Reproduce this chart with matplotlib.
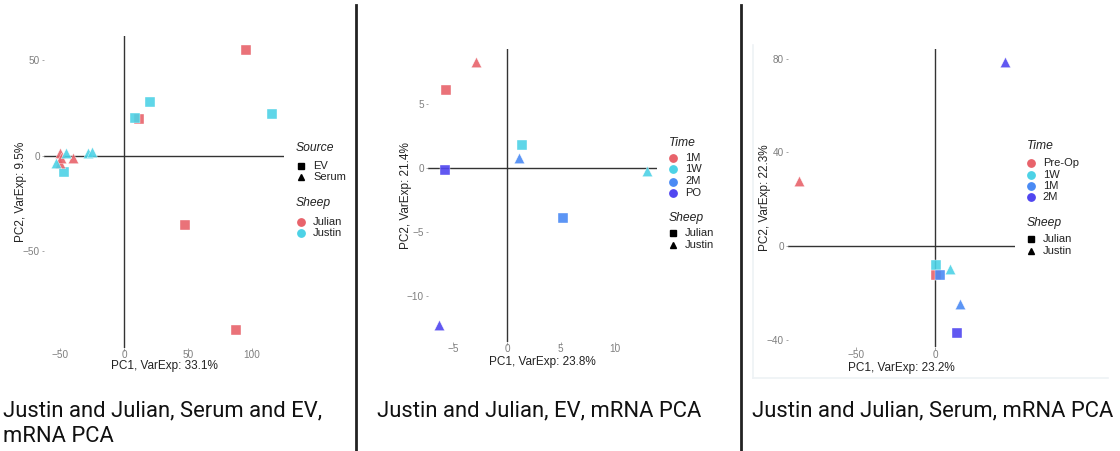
import matplotlib
matplotlib.use('Agg')
import matplotlib.pyplot as plt
from matplotlib.lines import Line2D

plt.rcParams['font.family'] = ['Liberation Sans', 'DejaVu Sans']

W, H = 1120, 451

# ---- data ----
# panel 1: serum and EV
p1_x = [95.6, 11.7, 48.0, 88.0, 20.3, 8.6, 116.0, -47.3,
        -50.4, -49.9, -40.0, -49.0, -53.0, -45.5, -27.8, -25.2]
p1_y = [55.4, 19.4, -36.4, -91.4, 28.3, 19.6, 21.9, -8.4,
        1.2, -4.0, -1.4, -1.0, -4.0, 1.2, 1.2, 1.8]
p1_source = ['EV'] * 8 + ['Serum'] * 8
p1_sheep = ['Julian'] * 4 + ['Justin'] * 4 + ['Julian'] * 4 + ['Justin'] * 4

# panel 2: EV
p2_x = [-2.9, -5.67, 1.4, 1.08, -5.76, 13.05, 5.17, -6.3]
p2_y = [8.3, 6.09, 1.83, 0.76, -0.16, -0.2, -3.9, -12.3]
p2_time = ['1M', '1M', '1W', '2M', 'PO', '1W', '2M', 'PO']
p2_sheep = ['Justin', 'Julian', 'Julian', 'Justin', 'Julian', 'Justin', 'Julian', 'Justin']

# panel 3: serum
p3_x = [-86.4, 44.1, 0.8, 0.4, 9.7, 3.0, 15.7, 13.8]
p3_y = [27.6, 78.4, -12.2, -8.0, -9.8, -12.2, -24.6, -37.2]
p3_time = ['Pre-Op', '2M', 'Pre-Op', '1W', '1W', '1M', '1M', '2M']
p3_sheep = ['Justin', 'Justin', 'Julian', 'Julian', 'Justin', 'Julian', 'Justin', 'Julian']

RED, CYAN, BLUE, PURPLE = '#E8636B', '#4DD2E6', '#4A8AF4', '#5046F0'
p1_colors = {'Julian': RED, 'Justin': CYAN}
p2_colors = {'1M': RED, '1W': CYAN, '2M': BLUE, 'PO': PURPLE}
p3_colors = {'Pre-Op': RED, '1W': CYAN, '1M': BLUE, '2M': PURPLE}
shape_src = {'EV': 's', 'Serum': '^'}
shape_sheep = {'Julian': 's', 'Justin': '^'}

fig = plt.figure(figsize=(W / 100, H / 100), dpi=100)


def fx(px):
    return px / W


def fy(py):
    return 1 - py / H


def px_axes(l, t, r, b):
    return fig.add_axes([l / W, 1 - b / H, (r - l) / W, (b - t) / H])


def style(ax, box, xlim, ylim, xticks, yticks, xlabel, ylabel, xlab_y, ylab_x):
    l, t, r, b = box
    ax.set_xlim(xlim)
    ax.set_ylim(ylim)
    ax.axhline(0, color='#333333', lw=1.0, zorder=1)
    ax.axvline(0, color='#333333', lw=1.0, zorder=1)
    for s in ax.spines.values():
        s.set_visible(False)
    ax.set_xticks(xticks)
    ax.set_yticks(yticks)
    ax.tick_params(length=1.8, width=0.6, color='#999999', labelcolor='#7f7f7f',
                   labelsize=7.2)
    ax.tick_params(axis='x', pad=0)
    ax.tick_params(axis='y', pad=1)
    ax.set_xlabel(xlabel, fontsize=8.5, color='#222222', va='center')
    ax.set_ylabel(ylabel, fontsize=8.5, color='#222222', va='center')
    ax.xaxis.set_label_coords(0.5, -(xlab_y - b) / (b - t))
    ax.yaxis.set_label_coords(-(l - ylab_x) / (r - l), 0.5)
    ax.patch.set_alpha(0)


def draw(ax, xs, ys, colors, markers):
    for x, y, c, m in zip(xs, ys, colors, markers):
        ax.scatter(x, y, s=44 if m == 's' else 56, marker=m, color=c,
                   edgecolors='white', linewidths=0.3, alpha=0.9, zorder=3)


def legend(title, labels, colors, markers, x, ty, mx, lx, ys):
    fig.text(fx(x), fy(ty), title, fontsize=8.7, style='italic', color='#222222',
             ha='left', va='center')
    for lab, c, m, y in zip(labels, colors, markers, ys):
        fig.add_artist(Line2D([fx(mx)], [fy(y)], ls='none', marker=m, color=c,
                              markersize=5.0 if m != 'o' else 5.3))
        fig.text(fx(lx), fy(y), lab, fontsize=8, color='#222222', ha='left', va='center')


# ---- panel 1 ----
box1 = (44, 36, 284, 348)
ax1 = px_axes(*box1)
draw(ax1, p1_x, p1_y, [p1_colors[s] for s in p1_sheep], [shape_src[s] for s in p1_source])
style(ax1, box1, (-62.6, 125.2), (-100.8, 62.8), [-50, 0, 50, 100], [-50, 0, 50],
      'PC1, VarExp: 33.1%', 'PC2, VarExp: 9.5%', 365.5, 21)
legend('Source', ['EV', 'Serum'], ['black', 'black'], ['s', '^'],
       296, 147.7, 301, 313, [165.7, 177])
legend('Sheep', ['Julian', 'Justin'], [RED, CYAN], ['o', 'o'],
       296, 203, 301, 313, [221.7, 232.9])

# ---- panel 2 ----
box2 = (428, 49, 657, 342)
ax2 = px_axes(*box2)
draw(ax2, p2_x, p2_y, [p2_colors[t] for t in p2_time], [shape_sheep[s] for s in p2_sheep])
style(ax2, box2, (-7.34, 13.94), (-13.64, 9.33), [-5, 0, 5, 10], [-10, -5, 0, 5],
      'PC1, VarExp: 23.8%', 'PC2, VarExp: 21.4%', 361.5, 406)
legend('Time', list(p2_colors), list(p2_colors.values()), ['o'] * 4,
       669, 143.3, 673.3, 685, [157.7, 169.3, 181.5, 193.3])
legend('Sheep', ['Julian', 'Justin'], ['black', 'black'], ['s', '^'],
       669, 218.3, 673.3, 685, [233.3, 245.3])

# ---- panel 3 ----
box3 = (788, 49, 1015, 347)
ax3 = px_axes(*box3)
draw(ax3, p3_x, p3_y, [p3_colors[t] for t in p3_time], [shape_sheep[s] for s in p3_sheep])
style(ax3, box3, (-93.4, 50.7), (-43.0, 84.1), [-50, 0], [-40, 0, 40, 80],
      'PC1, VarExp: 23.2%', 'PC2, VarExp: 22.3%', 367.5, 765)
legend('Time', list(p3_colors), list(p3_colors.values()), ['o'] * 4,
       1026.7, 146, 1031, 1042.7, [163.3, 174.5, 185.7, 196.7])
legend('Sheep', ['Julian', 'Justin'], ['black', 'black'], ['s', '^'],
       1026.7, 222.7, 1031, 1042.7, [239.3, 250.7])

# faint screenshot frame around panel 3
fig.add_artist(Line2D([fx(753), fx(753)], [fy(45), fy(378)], color='#eef2f5', lw=1.2))
fig.add_artist(Line2D([fx(753), fx(1108)], [fy(378), fy(378)], color='#eef2f5', lw=1.2))

# separators
for xs in (356, 741):
    fig.add_artist(Line2D([fx(xs), fx(xs)], [0, fy(5)], color='#222222', lw=2.0))

# captions
cap = dict(fontsize=15.8, family='Roboto', color='#111111', va='center', ha='left')
fig.text(fx(3), fy(411), 'Justin and Julian, Serum and EV,', **cap)
fig.text(fx(3), fy(436), 'mRNA PCA', **cap)
fig.text(fx(377), fy(411), 'Justin and Julian, EV, mRNA PCA', **cap)
fig.text(fx(752), fy(411), 'Justin and Julian, Serum, mRNA PCA', **cap)

fig.savefig('out.png', dpi=100, facecolor='white')
